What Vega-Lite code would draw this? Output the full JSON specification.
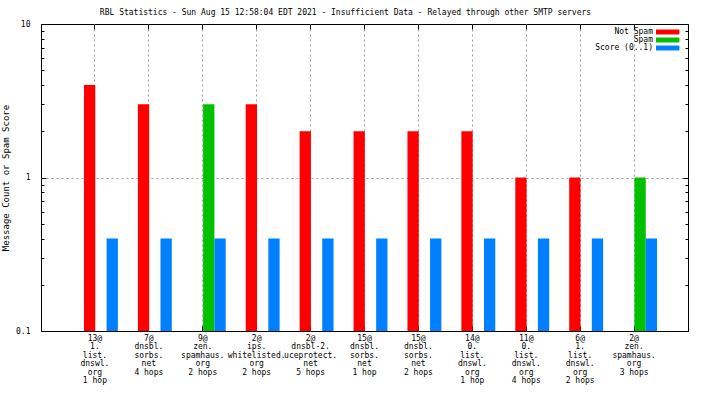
{
  "$schema": "https://vega.github.io/schema/vega-lite/v6.json",
  "width": 647,
  "height": 307,
  "autosize": "none",
  "padding": {"left": 41, "top": 24, "right": 16, "bottom": 65},
  "background": "white",
  "title": {
    "text": "RBL Statistics - Sun Aug 15 12:58:04 EDT 2021 - Insufficient Data - Relayed through other SMTP servers",
    "anchor": "middle",
    "dx": -19,
    "offset": -3,
    "baseline": "alphabetic",
    "font": "DejaVu Sans Mono",
    "fontSize": 8,
    "fontWeight": "normal",
    "color": "black"
  },
  "config": {
    "view": {"stroke": "black", "strokeWidth": 1},
    "axis": {
      "labelFont": "DejaVu Sans Mono",
      "labelFontSize": 8,
      "labelColor": "black",
      "titleFont": "DejaVu Sans Mono",
      "titleFontSize": 9,
      "titleFontWeight": "normal",
      "titleColor": "black",
      "tickColor": "black",
      "domain": false
    },
    "legend": {
      "orient": "none",
      "legendX": 611,
      "legendY": 4,
      "padding": 0,
      "symbolType": "M0,-0.83L7.8,-0.83L7.8,0.83L0,0.83Z",
      "symbolSize": 36,
      "symbolStrokeWidth": 0,
      "symbolOpacity": 1,
      "labelAlign": "right",
      "labelOffset": -7,
      "labelFont": "DejaVu Sans Mono",
      "labelFontSize": 8,
      "labelColor": "black",
      "rowPadding": -1
    }
  },
  "data": {
    "values": [
      {"cat": "13@|1.|list.|dnswl.|org|1 hop", "series": "Not Spam", "value": 4},
      {"cat": "13@|1.|list.|dnswl.|org|1 hop", "series": "Score (0..1)", "value": 0.4},
      {"cat": "7@|dnsbl.|sorbs.|net|4 hops", "series": "Not Spam", "value": 3},
      {"cat": "7@|dnsbl.|sorbs.|net|4 hops", "series": "Score (0..1)", "value": 0.4},
      {"cat": "9@|zen.|spamhaus.|org|2 hops", "series": "Spam", "value": 3},
      {"cat": "9@|zen.|spamhaus.|org|2 hops", "series": "Score (0..1)", "value": 0.4},
      {"cat": "2@|ips.|whitelisted.|org|2 hops", "series": "Not Spam", "value": 3},
      {"cat": "2@|ips.|whitelisted.|org|2 hops", "series": "Score (0..1)", "value": 0.4},
      {"cat": "2@|dnsbl-2.|uceprotect.|net|5 hops", "series": "Not Spam", "value": 2},
      {"cat": "2@|dnsbl-2.|uceprotect.|net|5 hops", "series": "Score (0..1)", "value": 0.4},
      {"cat": "15@|dnsbl.|sorbs.|net|1 hop", "series": "Not Spam", "value": 2},
      {"cat": "15@|dnsbl.|sorbs.|net|1 hop", "series": "Score (0..1)", "value": 0.4},
      {"cat": "15@|dnsbl.|sorbs.|net|2 hops", "series": "Not Spam", "value": 2},
      {"cat": "15@|dnsbl.|sorbs.|net|2 hops", "series": "Score (0..1)", "value": 0.4},
      {"cat": "14@|0.|list.|dnswl.|org|1 hop", "series": "Not Spam", "value": 2},
      {"cat": "14@|0.|list.|dnswl.|org|1 hop", "series": "Score (0..1)", "value": 0.4},
      {"cat": "11@|0.|list.|dnswl.|org|4 hops", "series": "Not Spam", "value": 1},
      {"cat": "11@|0.|list.|dnswl.|org|4 hops", "series": "Score (0..1)", "value": 0.4},
      {"cat": "6@|1.|list.|dnswl.|org|2 hops", "series": "Not Spam", "value": 1},
      {"cat": "6@|1.|list.|dnswl.|org|2 hops", "series": "Score (0..1)", "value": 0.4},
      {"cat": "2@|zen.|spamhaus.|org|3 hops", "series": "Spam", "value": 1},
      {"cat": "2@|zen.|spamhaus.|org|3 hops", "series": "Score (0..1)", "value": 0.4}
    ]
  },
  "layer": [
    {
      "mark": {"type": "bar"},
      "encoding": {
        "x": {
          "field": "cat",
          "type": "nominal",
          "sort": null,
          "scale": {"paddingInner": 0, "paddingOuter": 0.5},
          "axis": {
            "title": null,
            "labelExpr": "split(datum.label, '|')",
            "labelAngle": 0,
            "labelBaseline": "top",
            "labelLineHeight": 8.4,
            "labelPadding": 8.5,
            "labelOverlap": false,
            "labelBound": false,
            "labelFlush": false,
            "labelLimit": 0,
            "tickSize": -5,
            "grid": true,
            "gridColor": "#a0a0a0",
            "gridDash": [2, 3],
            "gridWidth": 1
          }
        },
        "xOffset": {
          "field": "series",
          "type": "nominal",
          "scale": {"domain": ["Not Spam", "Spam", "Score (0..1)"], "paddingInner": 0, "paddingOuter": 0.885, "align": 0.8}
        },
        "y": {
          "field": "value",
          "type": "quantitative",
          "scale": {"type": "log", "domain": [0.1, 10]},
          "axis": {
            "title": "Message Count or Spam Score",
            "titlePadding": 5,
            "values": [0.1, 0.2, 0.3, 0.4, 0.5, 0.6, 0.7, 0.8, 0.9, 1, 2, 3, 4, 5, 6, 7, 8, 9, 10],
            "labelExpr": "datum.value == 0.1 ? '0.1' : datum.value == 1 ? '1' : datum.value == 10 ? '10' : ''",
            "labelPadding": 16,
            "tickSize": {"condition": {"test": "datum.value == 0.1 || datum.value == 1 || datum.value == 10", "value": -5}, "value": -3},
            "grid": true,
            "gridColor": {"condition": {"test": "datum.value == 1", "value": "#a0a0a0"}, "value": "transparent"},
            "gridDash": [2, 3],
            "gridWidth": 1
          }
        },
        "y2": {"datum": 0.1},
        "color": {
          "field": "series",
          "type": "nominal",
          "scale": {"domain": ["Not Spam", "Spam", "Score (0..1)"], "range": ["#ff0000", "#00c000", "#0080ff"]},
          "legend": {"title": null}
        }
      }
    },
    {
      "mark": {"type": "bar", "opacity": 0},
      "encoding": {
        "x": {
          "field": "cat",
          "type": "nominal",
          "sort": null,
          "axis": {"orient": "top", "title": null, "labels": false, "tickSize": -5, "grid": false, "minExtent": 0, "maxExtent": 0}
        },
        "y": {
          "field": "value",
          "type": "quantitative",
          "axis": {
            "orient": "right",
            "title": null,
            "labels": false,
            "grid": false,
            "minExtent": 0,
            "maxExtent": 0,
            "values": [0.1, 0.2, 0.3, 0.4, 0.5, 0.6, 0.7, 0.8, 0.9, 1, 2, 3, 4, 5, 6, 7, 8, 9, 10],
            "tickSize": {"condition": {"test": "datum.value == 0.1 || datum.value == 1 || datum.value == 10", "value": -5}, "value": -3}
          }
        },
        "y2": {"datum": 0.1}
      }
    }
  ],
  "resolve": {"axis": {"x": "independent", "y": "independent"}}
}
